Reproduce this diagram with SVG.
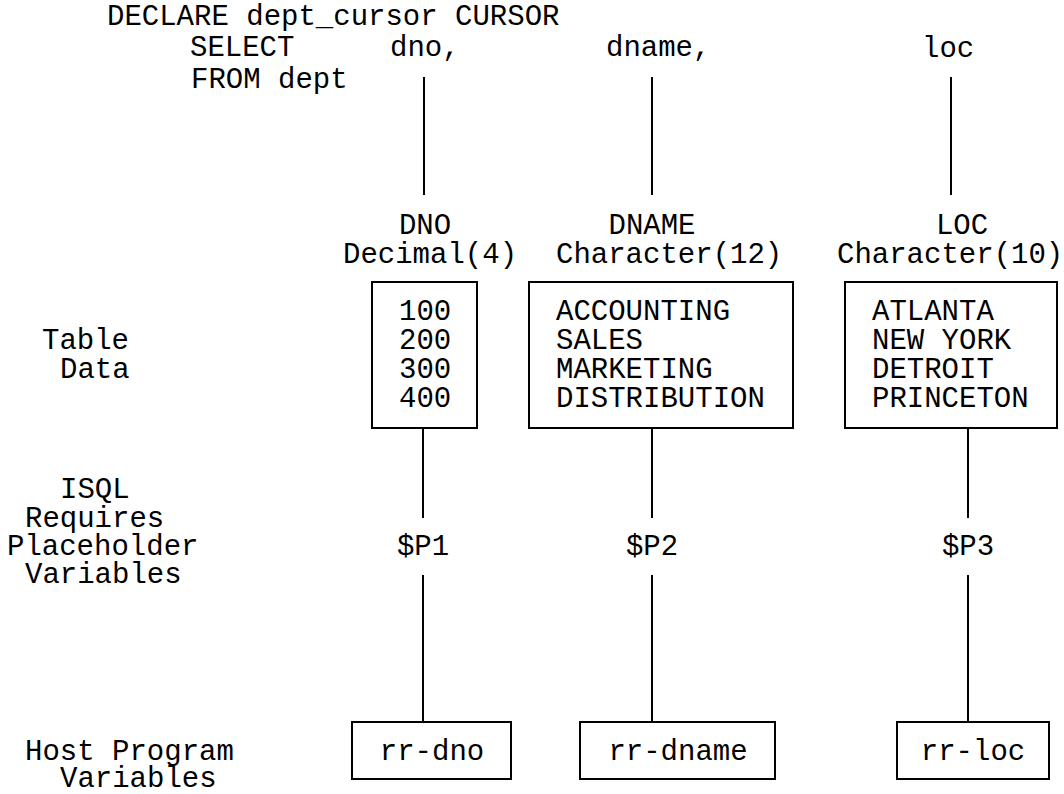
<svg xmlns="http://www.w3.org/2000/svg" width="1064" height="794" viewBox="0 0 1064 794">
<style>
text{font-family:"Liberation Mono","Courier New",monospace;font-size:29px;fill:#000}
.box{fill:#fff;stroke:#000;stroke-width:2}
.ln{stroke:#000;stroke-width:2;fill:none}
.m{text-anchor:middle}
</style>
<rect width="1064" height="794" fill="#fff"/>
<g id="cursor-decl">
<text x="107" y="25">DECLARE dept_cursor CURSOR</text>
<text x="190" y="56">SELECT</text>
<text x="390" y="56">dno,</text>
<text x="606" y="56">dname,</text>
<text x="922" y="57">loc</text>
<text x="191" y="88">FROM dept</text>
</g>
<g id="labels">
<text x="42" y="349">Table</text>
<text x="60" y="378">Data</text>
<text x="60" y="498">ISQL</text>
<text x="25" y="527">Requires</text>
<text x="7" y="555">Placeholder</text>
<text x="25" y="583">Variables</text>
<text x="25" y="760">Host Program</text>
<text x="60" y="787">Variables</text>
</g>
<g id="connectors">
<line class="ln" x1="424" y1="77" x2="424" y2="195"/>
<line class="ln" x1="652" y1="77" x2="652" y2="195"/>
<line class="ln" x1="951" y1="77" x2="951" y2="195"/>
<line class="ln" x1="423" y1="428" x2="423" y2="518"/>
<line class="ln" x1="652" y1="428" x2="652" y2="518"/>
<line class="ln" x1="968" y1="428" x2="968" y2="518"/>
<line class="ln" x1="423" y1="575" x2="423" y2="722"/>
<line class="ln" x1="652" y1="575" x2="652" y2="722"/>
<line class="ln" x1="968" y1="575" x2="968" y2="722"/>
</g>
<g id="dno-column">
<text class="m" x="425" y="234">DNO</text>
<text x="343" y="263">Decimal(4)</text>
<rect class="box" x="372" y="282" width="105" height="146"/>
<text x="399" y="320">100</text>
<text x="399" y="349">200</text>
<text x="399" y="378">300</text>
<text x="399" y="407">400</text>
</g>
<g id="dname-column">
<text class="m" x="652" y="234">DNAME</text>
<text x="556" y="263">Character(12)</text>
<rect class="box" x="529" y="282" width="264" height="146"/>
<text x="556" y="320">ACCOUNTING</text>
<text x="556" y="349">SALES</text>
<text x="556" y="378">MARKETING</text>
<text x="556" y="407">DISTRIBUTION</text>
</g>
<g id="loc-column">
<text class="m" x="962" y="234">LOC</text>
<text x="837" y="263">Character(10)</text>
<rect class="box" x="845" y="282" width="212" height="146"/>
<text x="872" y="320">ATLANTA</text>
<text x="872" y="349">NEW YORK</text>
<text x="872" y="378">DETROIT</text>
<text x="872" y="407">PRINCETON</text>
</g>
<g id="placeholders">
<text class="m" x="423" y="555">$P1</text>
<text class="m" x="652" y="555">$P2</text>
<text class="m" x="968" y="555">$P3</text>
</g>
<g id="rr-dno">
<rect class="box" x="352" y="722" width="159" height="57"/>
<text class="m" x="432" y="760">rr-dno</text>
</g>
<g id="rr-dname">
<rect class="box" x="580" y="722" width="195" height="57"/>
<text class="m" x="678" y="760">rr-dname</text>
</g>
<g id="rr-loc">
<rect class="box" x="897" y="722" width="152" height="57"/>
<text class="m" x="973" y="760">rr-loc</text>
</g>
</svg>
